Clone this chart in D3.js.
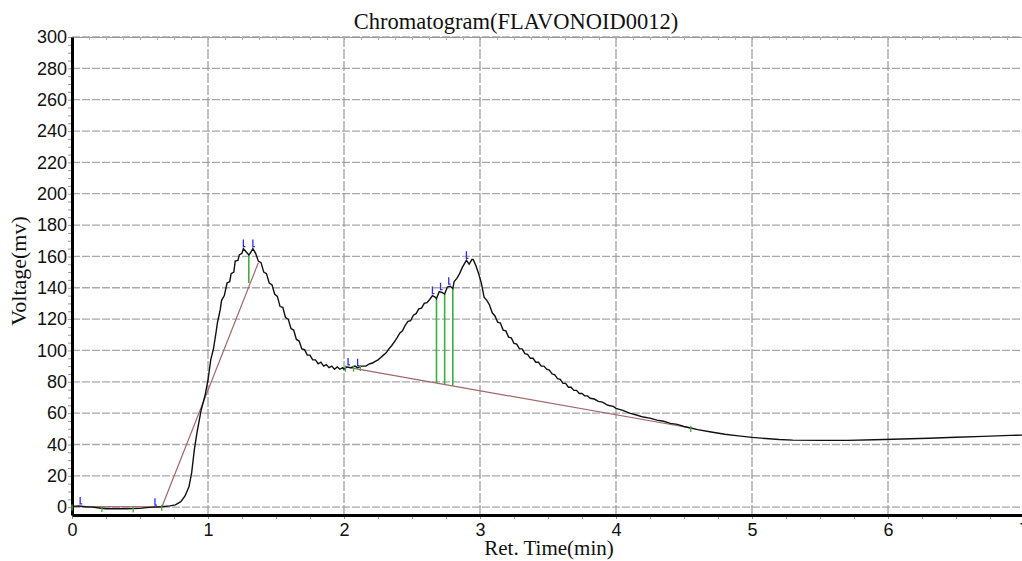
<!DOCTYPE html>
<html>
<head>
<meta charset="utf-8">
<script src="https://cdn.jsdelivr.net/npm/d3@7"></script>
<style>
  body { margin: 0; background: #fff; }
  svg { display: block; }
  .tick text { font-family: "Liberation Sans", Arial, Helvetica, sans-serif; }
</style>
</head>
<body>
<div id="chart"></div>
<script>
// signal: [ret. time (min), voltage (mv)]
var signal = [
  [0.00, 0.5], [0.05, 0.8], [0.10, 0.3], [0.15, 0], [0.20, -0.5], [0.25, -1], [0.30, -1], [0.40, -1],
  [0.50, -0.8], [0.55, -0.3], [0.60, 0], [0.66, 0.3], [0.72, 0.8], [0.76, 1.5], [0.80, 3.5], [0.83, 7],
  [0.86, 13], [0.88, 22], [0.90, 37], [0.92, 48], [0.95, 62], [0.98, 72], [1.00, 81], [1.02, 94],
  [1.04, 101], [1.06, 112], [1.07, 118], [1.09, 126], [1.10, 132], [1.12, 135], [1.14, 143], [1.16, 144],
  [1.17, 149], [1.19, 150], [1.20, 157], [1.22, 157.5], [1.23, 161], [1.25, 162], [1.26, 165], [1.28, 163],
  [1.30, 161], [1.31, 162], [1.33, 165], [1.35, 162], [1.37, 157], [1.39, 156], [1.41, 150], [1.43, 149],
  [1.45, 143], [1.47, 142], [1.49, 136], [1.51, 134.5], [1.53, 128], [1.55, 127.5], [1.57, 121], [1.59, 120],
  [1.61, 114], [1.63, 113], [1.65, 107], [1.67, 106], [1.69, 101], [1.71, 100.5], [1.73, 97], [1.75, 97],
  [1.77, 94], [1.79, 94], [1.81, 91.5], [1.83, 92.5], [1.85, 90], [1.87, 91], [1.89, 89], [1.91, 90],
  [1.93, 88], [1.95, 89.5], [1.97, 88], [1.99, 89], [2.00, 88], [2.02, 89.5], [2.05, 89], [2.08, 90],
  [2.10, 89], [2.13, 90], [2.16, 90], [2.19, 91.5], [2.21, 92], [2.23, 93], [2.25, 94], [2.27, 95.5],
  [2.29, 97], [2.31, 98.5], [2.33, 101], [2.35, 103], [2.37, 105.5], [2.39, 108], [2.41, 111], [2.43, 112.5],
  [2.45, 116], [2.47, 118.5], [2.49, 119], [2.51, 122.5], [2.53, 123.5], [2.55, 126.5], [2.57, 127], [2.59, 130],
  [2.61, 130.5], [2.63, 132.5], [2.65, 135], [2.67, 134], [2.68, 133], [2.70, 137.5], [2.72, 137], [2.74, 136],
  [2.76, 140.5], [2.78, 141], [2.80, 139.5], [2.81, 144], [2.83, 146], [2.85, 149], [2.87, 153], [2.89, 156],
  [2.90, 157.5], [2.92, 155], [2.94, 158], [2.95, 158], [2.97, 154], [2.99, 149], [3.01, 143], [3.03, 134],
  [3.05, 132], [3.07, 129], [3.09, 124], [3.11, 122], [3.13, 118], [3.15, 117.5], [3.17, 113], [3.19, 112.5],
  [3.21, 108.5], [3.23, 108], [3.25, 104.5], [3.27, 104], [3.29, 101], [3.31, 101], [3.33, 98], [3.35, 97.5],
  [3.37, 95], [3.39, 95], [3.41, 92.5], [3.43, 92.5], [3.45, 90], [3.47, 90], [3.49, 88], [3.51, 87.5],
  [3.53, 85], [3.55, 84.5], [3.57, 82], [3.59, 81.5], [3.61, 79], [3.63, 79], [3.65, 76.5], [3.67, 76.5],
  [3.69, 74.5], [3.71, 74.5], [3.73, 72.5], [3.75, 72.5], [3.77, 71], [3.79, 71], [3.81, 69.5], [3.84, 69],
  [3.87, 67.5], [3.90, 67], [3.94, 65], [3.98, 64.3], [4.00, 63], [4.05, 61.8], [4.10, 60], [4.15, 58.8],
  [4.20, 57.5], [4.25, 56.8], [4.30, 55.5], [4.35, 54.8], [4.40, 53.5], [4.45, 52.8], [4.50, 51.5], [4.55, 50.5],
  [4.60, 49.5], [4.70, 48], [4.80, 46.5], [4.90, 45.5], [5.00, 44.5], [5.10, 43.8], [5.20, 43.2], [5.30, 42.8],
  [5.50, 42.6], [5.70, 42.6], [5.90, 43], [6.10, 43.5], [6.30, 44], [6.50, 44.6], [6.70, 45.2], [6.90, 45.8],
  [7.00, 46]
];

// integration baselines (start / end points)
var baselines = [
  [[0.00, 0.3], [0.66, 0.2]],
  [[0.66, 0], [1.37, 156]],
  [[2.01, 89.5], [4.55, 50.5]]
];

// peak split drop lines: [time, top on curve, bottom on baseline]
var dropLines = [
  [1.30, 161, 143],
  [2.68, 133, 79.2],
  [2.74, 136, 78.3],
  [2.80, 139.5, 77.4]
];

// peak apex marks (blue) and baseline event marks (green)
var apexMarks = [[0.06, 0.8], [0.61, 0], [1.26, 165], [1.33, 165], [2.03, 89.5], [2.10, 89], [2.65, 135], [2.71, 137.5], [2.77, 141], [2.90, 157.5]];
var eventMarks = [[0.00, 0.5], [0.22, -0.5], [0.45, -0.9], [0.66, 0.3], [2.01, 89], [2.07, 89], [2.12, 89.5], [4.55, 50.5]];

var xTicks = [0, 1, 2, 3, 4, 5, 6, 7];
var yTicks = [0, 20, 40, 60, 80, 100, 120, 140, 160, 180, 200, 220, 240, 260, 280, 300];

var serif = '"Liberation Serif", "DejaVu Serif", "Times New Roman", serif';

var width = 1022,
    height = 561;

var svg = d3.select('#chart').append('svg')
    .attr('width', width)
    .attr('height', height);

var x = d3.scaleLinear()
    .domain([0, 7])
    .range([72, 1024]);

var y = d3.scaleLinear()
    .domain([-5, 300])
    .range([515, 37]);

// grid
svg.append('g').selectAll('line')
    .data(yTicks)
    .enter().append('line')
    .attr('x1', x(0)).attr('x2', width)
    .attr('y1', function(d) { return y(d); })
    .attr('y2', function(d) { return y(d); })
    .attr('stroke', '#a8a8a8')
    .attr('stroke-width', 1.3)
    .attr('stroke-dasharray', '8,2');

svg.append('g').selectAll('line')
    .data(xTicks.slice(1))
    .enter().append('line')
    .attr('x1', function(d) { return x(d); })
    .attr('x2', function(d) { return x(d); })
    .attr('y1', y(300)).attr('y2', y(-5))
    .attr('stroke', '#9a9a9a')
    .attr('stroke-width', 1.2)
    .attr('stroke-dasharray', '10,2');

// minor ticks
svg.append('g')
    .attr('transform', 'translate(' + x(0) + ',0)')
    .call(d3.axisLeft(y).tickValues(d3.range(0, 301, 5)).tickSize(4).tickFormat(''))
    .call(function(g) { g.select('.domain').remove(); })
    .selectAll('line').attr('stroke', '#999');

svg.append('g')
    .attr('transform', 'translate(0,' + y(-5) + ')')
    .call(d3.axisBottom(x).tickValues(d3.range(0, 7.01, 0.25)).tickSize(4).tickFormat(''))
    .call(function(g) { g.select('.domain').remove(); })
    .selectAll('line').attr('stroke', '#999');

svg.append('g')
    .attr('transform', 'translate(0,' + y(300) + ')')
    .call(d3.axisTop(x).tickValues(d3.range(0, 7.01, 0.125)).tickSize(-3).tickFormat(''))
    .call(function(g) { g.select('.domain').attr('stroke', '#999'); })
    .selectAll('line').attr('stroke', '#aaa');

// main axes
var yAxis = svg.append('g')
    .attr('transform', 'translate(' + x(0) + ',0)')
    .call(d3.axisLeft(y).tickValues(yTicks).tickSize(0).tickPadding(5));
yAxis.select('.domain').attr('stroke', '#000').attr('stroke-width', 3);
yAxis.attr('font-family', null);
yAxis.selectAll('text')
    .attr('font-size', '18px')
    .attr('fill', '#111');

var xAxis = svg.append('g')
    .attr('transform', 'translate(0,' + y(-5) + ')')
    .call(d3.axisBottom(x).tickValues(xTicks).tickFormat(d3.format('d')).tickSize(0).tickPadding(8));
xAxis.select('.domain').attr('stroke', '#000').attr('stroke-width', 3);
xAxis.attr('font-family', null);
xAxis.selectAll('text')
    .attr('font-size', '18px')
    .attr('fill', '#111');

// baselines
var line = d3.line()
    .x(function(d) { return x(d[0]); })
    .y(function(d) { return y(d[1]); });

svg.append('g').selectAll('path')
    .data(baselines)
    .enter().append('path')
    .attr('d', line)
    .attr('fill', 'none')
    .attr('stroke', '#a06868')
    .attr('stroke-width', 1.2);

// drop lines
svg.append('g').selectAll('line')
    .data(dropLines)
    .enter().append('line')
    .attr('x1', function(d) { return x(d[0]); })
    .attr('x2', function(d) { return x(d[0]); })
    .attr('y1', function(d) { return y(d[1]); })
    .attr('y2', function(d) { return y(d[2]); })
    .attr('stroke', '#3cb03c')
    .attr('stroke-width', 1.6);

// signal
svg.append('path')
    .datum(signal)
    .attr('d', line)
    .attr('fill', 'none')
    .attr('stroke', '#111')
    .attr('stroke-width', 1.4);

// marks
svg.append('g').selectAll('path')
    .data(apexMarks)
    .enter().append('path')
    .attr('d', function(d) {
        var px = x(d[0]), py = y(d[1]);
        return 'M' + px + ',' + (py - 9) + 'V' + (py - 2) + 'H' + (px + 2);
    })
    .attr('fill', 'none')
    .attr('stroke', '#2a2aff')
    .attr('stroke-width', 1.3);

svg.append('g').selectAll('line')
    .data(eventMarks)
    .enter().append('line')
    .attr('x1', function(d) { return x(d[0]); })
    .attr('x2', function(d) { return x(d[0]); })
    .attr('y1', function(d) { return y(d[1]) - 2; })
    .attr('y2', function(d) { return y(d[1]) + 4; })
    .attr('stroke', '#3cb03c')
    .attr('stroke-width', 1.3);

// titles
svg.append('text')
    .attr('x', 516)
    .attr('y', 29)
    .attr('text-anchor', 'middle')
    .style('font-family', serif)
    .style('font-size', '22.5px')
    .attr('fill', '#111')
    .text('Chromatogram(FLAVONOID0012)');

svg.append('text')
    .attr('x', 549)
    .attr('y', 555)
    .attr('text-anchor', 'middle')
    .style('font-family', serif)
    .style('font-size', '21px')
    .attr('fill', '#111')
    .text('Ret. Time(min)');

svg.append('text')
    .attr('transform', 'translate(26,271) rotate(-90)')
    .attr('text-anchor', 'middle')
    .style('font-family', serif)
    .style('font-size', '22px')
    .attr('fill', '#111')
    .text('Voltage(mv)');
</script>
</body>
</html>
